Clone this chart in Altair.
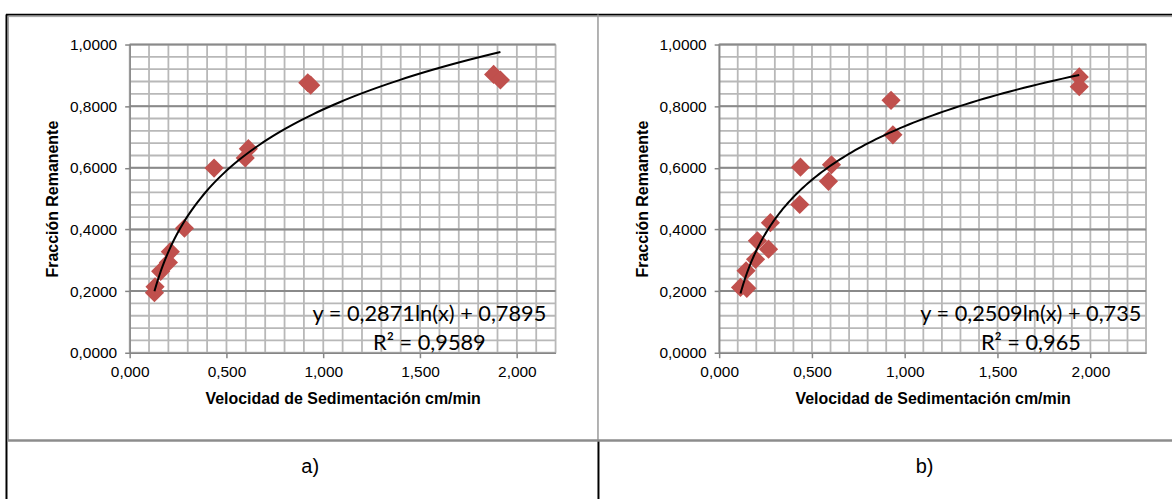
import altair as alt
import numpy as np
import pandas as pd

# Test a): settling velocity (cm/min) vs. remaining fraction
vel_a = [0.128, 0.131, 0.160, 0.200, 0.210, 0.283, 0.436, 0.597, 0.613, 0.920, 0.935, 1.880, 1.915]
frac_a = [0.195, 0.214, 0.264, 0.293, 0.328, 0.404, 0.599, 0.632, 0.662, 0.876, 0.868, 0.903, 0.885]

# Test b)
vel_b = [0.115, 0.149, 0.145, 0.196, 0.206, 0.266, 0.276, 0.434, 0.438, 0.589, 0.605, 0.926, 0.936, 1.940, 1.940]
frac_b = [0.212, 0.209, 0.266, 0.303, 0.363, 0.336, 0.422, 0.481, 0.602, 0.556, 0.610, 0.819, 0.707, 0.895, 0.863]

# Logarithmic trend lines y = a*ln(x) + b and their labels
fit_a = (0.2871, 0.7895)
fit_b = (0.2509, 0.735)
label_a = "y = 0,2871ln(x) + 0,7895\nR² = 0,9589"
label_b = "y = 0,2509ln(x) + 0,735\nR² = 0,965"

x_major = [0.0, 0.5, 1.0, 1.5, 2.0]
y_major = [0.0, 0.2, 0.4, 0.6, 0.8, 1.0]
y_minor = [0.0, 0.04, 0.08, 0.12, 0.16, 0.2, 0.24, 0.28, 0.32, 0.36, 0.4, 0.44, 0.48,
           0.52, 0.56, 0.6, 0.64, 0.68, 0.72, 0.76, 0.8, 0.84, 0.88, 0.92, 0.96, 1.0]
x_minor_a = [round(i * 0.1, 1) for i in range(23)]
x_minor_b = [round(i * 0.1, 1) for i in range(24)]

RED = "#C0504D"
AXIS_GRAY = "#868686"
LIGHT_GRID = "#b8b8b8"
DARK_GRID = "#8a8a8a"
FONT = "Liberation Sans"

one = pd.DataFrame({"k": [0]})


def hline(x1, x2, y, color, w):
    return alt.Chart(one).mark_rule(color=color, strokeWidth=w).encode(
        x=alt.value(x1), x2=alt.value(x2), y=alt.value(y))


def vline(x, y1, y2, color, w):
    return alt.Chart(one).mark_rule(color=color, strokeWidth=w).encode(
        x=alt.value(x), y=alt.value(y1), y2=alt.value(y2))


def panel(vel, frac, fit, label, x_minor, xmax, width, title_x, label_x):
    height = 309
    xscale = alt.Scale(domain=[0, xmax], nice=False, zero=True)
    yscale = alt.Scale(domain=[0, 1], nice=False)
    xaxis = alt.Axis(
        values=x_major, grid=False, zindex=1,
        labelExpr="replace(format(datum.value, '.3f'), '.', ',')",
        title="Velocidad de Sedimentación cm/min",
        titleX=width / 2, titleY=51, titleBaseline="alphabetic",
        domainColor=AXIS_GRAY, domainWidth=1.5, tickColor=AXIS_GRAY, tickWidth=1.5,
        tickSize=5, labelPadding=7, labelFont=FONT, labelFontSize=15.5,
        labelColor="black", titleFont=FONT, titleFontSize=16, titleFontWeight="bold",
        titleColor="black", labelFlush=False)
    yaxis = alt.Axis(
        values=y_major, grid=False, zindex=1,
        labelExpr="replace(format(datum.value, '.4f'), '.', ',')",
        title="Fracción Remanente",
        titleX=title_x, titleY=height / 2, titleAngle=270, titleAlign="center",
        titleBaseline="alphabetic",
        domainColor=AXIS_GRAY, domainWidth=1.5, tickColor=AXIS_GRAY, tickWidth=1.5,
        tickSize=5, labelPadding=8, labelFont=FONT, labelFontSize=15.5,
        labelColor="black", titleFont=FONT, titleFontSize=16, titleFontWeight="bold",
        titleColor="black", labelFlush=False)

    def X(field):
        return alt.X(field, type="quantitative", scale=xscale, axis=xaxis)

    def Y(field):
        return alt.Y(field, type="quantitative", scale=yscale, axis=yaxis)

    vgrid = alt.Chart(pd.DataFrame({"gx": x_minor})).mark_rule(
        color=LIGHT_GRID, strokeWidth=1.8).encode(x=X("gx"))
    hgrid_minor = alt.Chart(pd.DataFrame({"gy": y_minor})).mark_rule(
        color=LIGHT_GRID, strokeWidth=1.8).encode(y=Y("gy"))
    hgrid_major = alt.Chart(pd.DataFrame({"gy": y_major[1:]})).mark_rule(
        color=DARK_GRID, strokeWidth=2).encode(y=Y("gy"))

    pts = alt.Chart(pd.DataFrame({"vel": vel, "frac": frac})).mark_point(
        shape="diamond", filled=True, size=370, color=RED, opacity=1).encode(
        x=X("vel"), y=Y("frac"))

    a, b = fit
    curve_x = np.geomspace(min(vel), max(vel), 120)
    trend = alt.Chart(pd.DataFrame({"vel": curve_x})).transform_calculate(
        frac=f"{a} * log(datum.vel) + {b}").mark_line(
        color="black", strokeWidth=2).encode(x=X("vel"), y=Y("frac"))

    eq = alt.Chart(pd.DataFrame({"t": [label]})).mark_text(
        font="Lato", fontSize=21.8, align="center", baseline="alphabetic",
        lineBreak="\n", lineHeight=28.3, color="black").encode(
        x=alt.value(label_x), y=alt.value(277.5), text="t:N")

    return [vgrid, hgrid_minor, hgrid_major, pts, trend, eq], width, height


layers_a, wa, ha = panel(vel_a, frac_a, fit_a, label_a, x_minor_a, 2.2, 427, -72.7, 300.5)
layers_b, wb, hb = panel(vel_b, frac_b, fit_b, label_b, x_minor_b, 2.3, 428, -71.5, 312.5)

# Table frame around both charts and the a) / b) captions (pixels from the left chart's plot origin)
page = [
    alt.Chart(one).mark_rect(color="white").encode(
        x=alt.value(-129), x2=alt.value(1045), y=alt.value(-43), y2=alt.value(456)),
    hline(-122, 1045, -28, "#a0a0a0", 1),
    vline(-121.5, -29, 397, "#a0a0a0", 1),
    hline(-124, 1045, -30, "black", 1.6),
    vline(-123.5, -30, 456, "black", 2),
    vline(469.5, -30, 397, "#9a9a9a", 1.5),
    vline(470, 397, 456, "black", 2),
    hline(-123, 1045, 397, "#8c8c8c", 2.5),
]
captions = [
    alt.Chart(pd.DataFrame({"t": ["a)"]})).mark_text(
        font=FONT, fontSize=20, align="center", baseline="alphabetic", color="black").encode(
        x=alt.value(181), y=alt.value(430), text="t:N"),
    alt.Chart(pd.DataFrame({"t": ["b)"]})).mark_text(
        font=FONT, fontSize=20, align="center", baseline="alphabetic", color="black").encode(
        x=alt.value(797), y=alt.value(430), text="t:N"),
]

chart_a = alt.layer(*page, *layers_a, *captions).properties(width=wa, height=ha)
chart_b = alt.layer(*layers_b).properties(width=wb, height=hb)

chart = alt.HConcatChart(
    hconcat=[chart_a, chart_b], spacing=164, bounds="flush", padding=0
).configure(background="white").configure_view(stroke="#a6a6a6", strokeWidth=1.5)

chart.save("out.html", embed_options={"renderer": "svg", "actions": False})
